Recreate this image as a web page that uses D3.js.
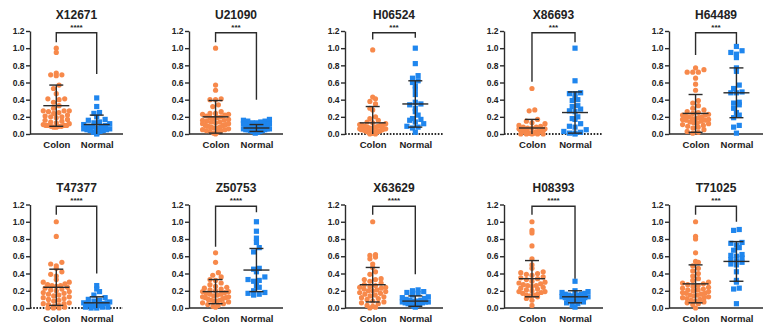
<!DOCTYPE html>
<html>
<head>
<meta charset="utf-8">
<script src="https://cdn.jsdelivr.net/npm/d3@7"></script>
<style>
  body { margin: 0; background: #fff; }
  text { font-family: "Liberation Sans", Arial, sans-serif; font-weight: bold; fill: #222; }
</style>
</head>
<body>
<svg id="chart" width="776" height="330"></svg>
<script>
// ---- data ----
var genes = ["X12671", "U21090", "H06524", "X86693", "H64489",
             "T47377", "Z50753", "X63629", "H08393", "T71025"];
var groups = ["Colon", "Normal"];
var stars = ["****", "***", "***", "***", "***", "****", "****", "****", "****", "***"];
var yTicks = [0, 0.2, 0.4, 0.6, 0.8, 1.0, 1.2];
var dottedZero = ["H06524", "X86693", "T47377"];

var colonValues = [
  [1.0, 0.95, 0.71, 0.69, 0.69, 0.68, 0.57, 0.53, 0.47, 0.41, 0.41, 0.40, 0.37, 0.33, 0.30, 0.27, 0.27, 0.27, 0.26, 0.25, 0.24, 0.22, 0.21, 0.20, 0.20, 0.19, 0.17, 0.16, 0.15, 0.14, 0.12, 0.11, 0.10, 0.10, 0.10, 0.09, 0.09, 0.08, 0.08, 0.09, 0.10, 0.13],
  [1.0, 0.57, 0.51, 0.41, 0.40, 0.40, 0.34, 0.32, 0.26, 0.24, 0.24, 0.23, 0.23, 0.22, 0.21, 0.20, 0.19, 0.18, 0.17, 0.16, 0.15, 0.14, 0.14, 0.13, 0.12, 0.11, 0.10, 0.10, 0.09, 0.08, 0.07, 0.07, 0.06, 0.05, 0.04, 0.04, 0.03, 0.02, 0.01, 0.0, 0.16, 0.19, 0.12, 0.08, 0.05],
  [0.98, 0.43, 0.41, 0.38, 0.35, 0.30, 0.28, 0.20, 0.18, 0.16, 0.14, 0.13, 0.12, 0.11, 0.10, 0.10, 0.09, 0.08, 0.08, 0.07, 0.07, 0.06, 0.06, 0.05, 0.05, 0.04, 0.04, 0.03, 0.03, 0.02, 0.02, 0.02, 0.01, 0.01, 0.0, 0.0, 0.05, 0.09, 0.11, 0.03, 0.06],
  [0.53, 0.28, 0.27, 0.17, 0.15, 0.13, 0.12, 0.10, 0.09, 0.08, 0.08, 0.07, 0.06, 0.06, 0.05, 0.05, 0.04, 0.04, 0.04, 0.03, 0.03, 0.03, 0.02, 0.02, 0.02, 0.02, 0.01, 0.01, 0.01, 0.01, 0.0, 0.0, 0.0, 0.0, 0.0, 0.01, 0.02, 0.03, 0.05, 0.07],
  [0.77, 0.75, 0.72, 0.72, 0.72, 0.65, 0.58, 0.51, 0.39, 0.36, 0.33, 0.30, 0.28, 0.26, 0.25, 0.24, 0.23, 0.22, 0.21, 0.20, 0.20, 0.19, 0.18, 0.17, 0.17, 0.16, 0.16, 0.15, 0.14, 0.13, 0.12, 0.11, 0.10, 0.09, 0.08, 0.07, 0.05, 0.03, 0.02, 0.01, 0.18, 0.22, 0.13],
  [1.0, 0.83, 0.53, 0.51, 0.49, 0.46, 0.42, 0.39, 0.37, 0.33, 0.30, 0.30, 0.28, 0.27, 0.26, 0.25, 0.24, 0.23, 0.22, 0.20, 0.19, 0.17, 0.16, 0.15, 0.14, 0.13, 0.12, 0.11, 0.10, 0.09, 0.08, 0.06, 0.05, 0.04, 0.03, 0.02, 0.01, 0.0, 0.0, 0.0, 0.18, 0.21, 0.26, 0.05],
  [0.64, 0.53, 0.41, 0.38, 0.36, 0.33, 0.32, 0.29, 0.27, 0.25, 0.24, 0.22, 0.21, 0.20, 0.19, 0.18, 0.17, 0.16, 0.15, 0.14, 0.13, 0.12, 0.11, 0.10, 0.09, 0.09, 0.08, 0.07, 0.06, 0.05, 0.04, 0.03, 0.02, 0.01, 0.16, 0.12, 0.19, 0.23, 0.08, 0.13],
  [1.0, 0.62, 0.61, 0.59, 0.57, 0.51, 0.47, 0.42, 0.39, 0.34, 0.33, 0.33, 0.31, 0.29, 0.27, 0.26, 0.25, 0.24, 0.23, 0.22, 0.21, 0.20, 0.19, 0.18, 0.17, 0.16, 0.15, 0.14, 0.13, 0.12, 0.11, 0.10, 0.08, 0.07, 0.06, 0.05, 0.03, 0.02, 0.01, 0.0, 0.20, 0.24],
  [1.0, 0.90, 0.87, 0.72, 0.57, 0.50, 0.46, 0.42, 0.41, 0.40, 0.39, 0.38, 0.36, 0.34, 0.33, 0.31, 0.29, 0.28, 0.27, 0.26, 0.25, 0.24, 0.23, 0.22, 0.21, 0.20, 0.19, 0.18, 0.17, 0.16, 0.15, 0.14, 0.13, 0.11, 0.09, 0.03, 0.35, 0.30, 0.26, 0.15, 0.19],
  [1.0, 0.83, 0.80, 0.64, 0.54, 0.53, 0.49, 0.46, 0.43, 0.40, 0.37, 0.34, 0.32, 0.30, 0.29, 0.28, 0.27, 0.25, 0.24, 0.23, 0.22, 0.21, 0.20, 0.19, 0.18, 0.17, 0.16, 0.15, 0.14, 0.13, 0.12, 0.11, 0.10, 0.09, 0.08, 0.07, 0.06, 0.05, 0.04, 0.0, 0.17, 0.21, 0.26, 0.12, 0.15]
];
var normalValues = [
  [0.42, 0.32, 0.25, 0.24, 0.20, 0.17, 0.16, 0.14, 0.13, 0.12, 0.11, 0.10, 0.09, 0.08, 0.07, 0.06, 0.05, 0.05, 0.04, 0.04, 0.03, 0.02, 0.01, 0.0, 0.06, 0.08],
  [0.17, 0.16, 0.15, 0.15, 0.14, 0.13, 0.13, 0.12, 0.12, 0.11, 0.11, 0.10, 0.10, 0.09, 0.09, 0.08, 0.08, 0.08, 0.07, 0.07, 0.06, 0.06, 0.05, 0.05, 0.04, 0.04, 0.03, 0.03, 0.02, 0.01, 0.06, 0.09, 0.11, 0.05, 0.07],
  [1.0, 0.82, 0.68, 0.65, 0.62, 0.60, 0.56, 0.52, 0.46, 0.37, 0.35, 0.30, 0.26, 0.22, 0.18, 0.17, 0.16, 0.14, 0.12, 0.09, 0.08, 0.07, 0.02, 0.34],
  [1.0, 0.62, 0.48, 0.47, 0.47, 0.42, 0.40, 0.39, 0.33, 0.32, 0.29, 0.27, 0.26, 0.20, 0.18, 0.17, 0.12, 0.09, 0.08, 0.05, 0.03, 0.02, 0.01, 0.01, 0.0],
  [1.02, 0.97, 0.95, 0.93, 0.89, 0.77, 0.73, 0.57, 0.53, 0.49, 0.48, 0.48, 0.37, 0.36, 0.34, 0.30, 0.25, 0.22, 0.19, 0.10, 0.08, 0.01],
  [0.26, 0.22, 0.19, 0.15, 0.12, 0.10, 0.09, 0.08, 0.07, 0.06, 0.05, 0.05, 0.04, 0.03, 0.03, 0.02, 0.02, 0.01, 0.01, 0.01, 0.0, 0.0, 0.04, 0.06],
  [1.0, 0.89, 0.81, 0.76, 0.70, 0.65, 0.46, 0.45, 0.42, 0.36, 0.33, 0.32, 0.31, 0.26, 0.24, 0.20, 0.18, 0.17, 0.16, 0.15],
  [0.21, 0.20, 0.19, 0.18, 0.17, 0.15, 0.13, 0.12, 0.11, 0.10, 0.09, 0.08, 0.08, 0.07, 0.07, 0.06, 0.06, 0.05, 0.05, 0.04, 0.03, 0.02, 0.01, 0.09, 0.07],
  [0.31, 0.20, 0.19, 0.18, 0.17, 0.16, 0.15, 0.15, 0.14, 0.14, 0.13, 0.13, 0.12, 0.12, 0.11, 0.10, 0.09, 0.08, 0.07, 0.06, 0.05, 0.03, 0.01, 0.16, 0.11],
  [0.91, 0.90, 0.76, 0.75, 0.73, 0.70, 0.67, 0.62, 0.61, 0.60, 0.58, 0.56, 0.54, 0.53, 0.51, 0.50, 0.42, 0.32, 0.30, 0.23, 0.22, 0.05]
];
// mean and SD as drawn
var colonMeanSD = [[0.33, 0.24], [0.20, 0.19], [0.13, 0.19], [0.07, 0.10], [0.24, 0.22],
                   [0.24, 0.21], [0.19, 0.14], [0.27, 0.20], [0.34, 0.21], [0.28, 0.22]];
var normalMeanSD = [[0.11, 0.11], [0.07, 0.04], [0.35, 0.27], [0.25, 0.24], [0.48, 0.29],
                    [0.06, 0.07], [0.44, 0.25], [0.08, 0.06], [0.13, 0.07], [0.54, 0.23]];
// bracket: top value and the value each leg drops to (Colon, Normal)
var bracketTop = 1.18;
var bracketLegs = [[1.07, 0.70], [1.07, 0.40], [1.10, 1.12], [0.61, 1.07], [0.92, 1.05],
                   [1.08, 0.40], [0.71, 1.11], [1.08, 0.39], [1.08, 0.34], [1.08, 1.00]];

// ---- layout ----
var colX = [[30, 123], [189, 283], [345, 443], [504, 603], [669, 763]];
var rowY = [[31, 134], [204.5, 308]];
var ORANGE = "#f7894b", BLUE = "#1f86ee", INK = "#2b2b2b";
var R = 2.6, HALFW = 13;

var svg = d3.select("#chart");

// prism-like scatter: bin by height, spread each bin evenly, width capped
function scatter(vals, y, r, halfW) {
  var binH = 2 * r * 0.95;
  var bins = d3.group(vals.map(function(v) { return { v: v, y: y(v), dx: 0 }; }),
                      function(p) { return Math.floor(p.y / binH); });
  bins.forEach(function(pts) {
    pts.sort(function(a, b) { return a.v - b.v; });
    var n = pts.length;
    if (n < 2) return;
    var s = Math.min(2 * r + 0.4, 2 * halfW / (n - 1));
    // order: centre outwards alternately
    var offs = d3.range(n).map(function(j) { return (j - (n - 1) / 2) * s; });
    offs.sort(function(a, b) { return Math.abs(a) - Math.abs(b) || a - b; });
    pts.forEach(function(p, j) { p.dx = offs[j]; });
  });
  return Array.from(bins.values()).flat();
}

genes.forEach(function(gene, i) {
  var row = Math.floor(i / 5), col = i % 5;
  var g = svg.append("g");

  var y = d3.scaleLinear().domain([0, 1.2]).range([rowY[row][1], rowY[row][0]]);
  var x = d3.scalePoint().domain(groups).range(colX[col]).padding(0.65);

  // title + stars
  g.append("text")
   .attr("x", (x("Colon") + x("Normal")) / 2)
   .attr("y", rowY[row][0] - 12.5)
   .attr("text-anchor", "middle")
   .style("font-size", "12px")
   .text(gene);

  g.append("text")
   .attr("x", (x("Colon") + x("Normal")) / 2)
   .attr("y", rowY[row][0] - 1.5)
   .attr("text-anchor", "middle")
   .style("font-size", "8px")
   .text(stars[i]);

  // y axis
  var yAxis = g.append("g")
     .attr("transform", "translate(" + colX[col][0] + ",0)")
     .call(d3.axisLeft(y).tickValues(yTicks).tickFormat(d3.format(".1f")).tickSize(4).tickSizeOuter(0));
  yAxis.select(".domain").attr("stroke", INK).attr("stroke-width", 1.4);
  yAxis.selectAll(".tick line").attr("stroke", INK).attr("stroke-width", 1.4);
  yAxis.selectAll(".tick text").attr("x", -5.5).style("font-size", "8.5px")
       .style("font-family", "'Liberation Sans', Arial, sans-serif").style("font-weight", "bold").attr("fill", "#222");

  // x axis
  var xAxis = g.append("g")
     .attr("transform", "translate(0," + y(0) + ")")
     .call(d3.axisBottom(x).tickSize(0).tickSizeOuter(0));
  xAxis.select(".domain")
       .attr("d", "M" + colX[col][0] + ",0H" + colX[col][1])
       .attr("stroke", INK)
       .attr("stroke-width", dottedZero.indexOf(gene) >= 0 ? 2 : 1.4)
       .attr("stroke-dasharray", dottedZero.indexOf(gene) >= 0 ? "1.6,1.6" : null);
  xAxis.selectAll(".tick text").attr("dy", "1.1em").attr("y", 4)
       .style("font-size", "9.5px").style("font-family", "'Liberation Sans', Arial, sans-serif")
       .style("font-weight", "bold").attr("fill", "#222");

  // points
  var colonPts = scatter(colonValues[i], y, R, HALFW);
  var normalPts = scatter(normalValues[i], y, R, HALFW);

  g.selectAll(".colon").data(colonPts).enter().append("circle")
   .attr("cx", function(d) { return x("Colon") + d.dx; })
   .attr("cy", function(d) { return d.y; })
   .attr("r", R)
   .attr("fill", ORANGE);

  g.selectAll(".normal").data(normalPts).enter().append("rect")
   .attr("x", function(d) { return x("Normal") + d.dx - R; })
   .attr("y", function(d) { return d.y - R; })
   .attr("width", 2 * R).attr("height", 2 * R)
   .attr("fill", BLUE);

  // mean +- SD
  [["Colon", colonMeanSD[i]], ["Normal", normalMeanSD[i]]].forEach(function(e) {
    var cx = x(e[0]), m = e[1][0], sd = e[1][1];
    var hi = m + sd, lo = Math.max(0, m - sd);
    var eb = g.append("g").attr("stroke", INK).attr("stroke-width", 1.4);
    eb.append("line").attr("x1", cx).attr("x2", cx).attr("y1", y(hi)).attr("y2", y(lo));
    eb.append("line").attr("x1", cx - 13).attr("x2", cx + 13).attr("y1", y(m)).attr("y2", y(m));
    eb.append("line").attr("x1", cx - 7).attr("x2", cx + 7).attr("y1", y(hi)).attr("y2", y(hi));
    if (m - sd > 0) {
      eb.append("line").attr("x1", cx - 7).attr("x2", cx + 7).attr("y1", y(lo)).attr("y2", y(lo));
    }
  });

  // significance bracket
  var legs = bracketLegs[i];
  g.append("path")
   .attr("d", "M" + x("Colon") + "," + y(legs[0]) +
              "V" + y(bracketTop) + "H" + x("Normal") + "V" + y(legs[1]))
   .attr("fill", "none").attr("stroke", INK).attr("stroke-width", 1.4);
});
</script>
</body>
</html>
